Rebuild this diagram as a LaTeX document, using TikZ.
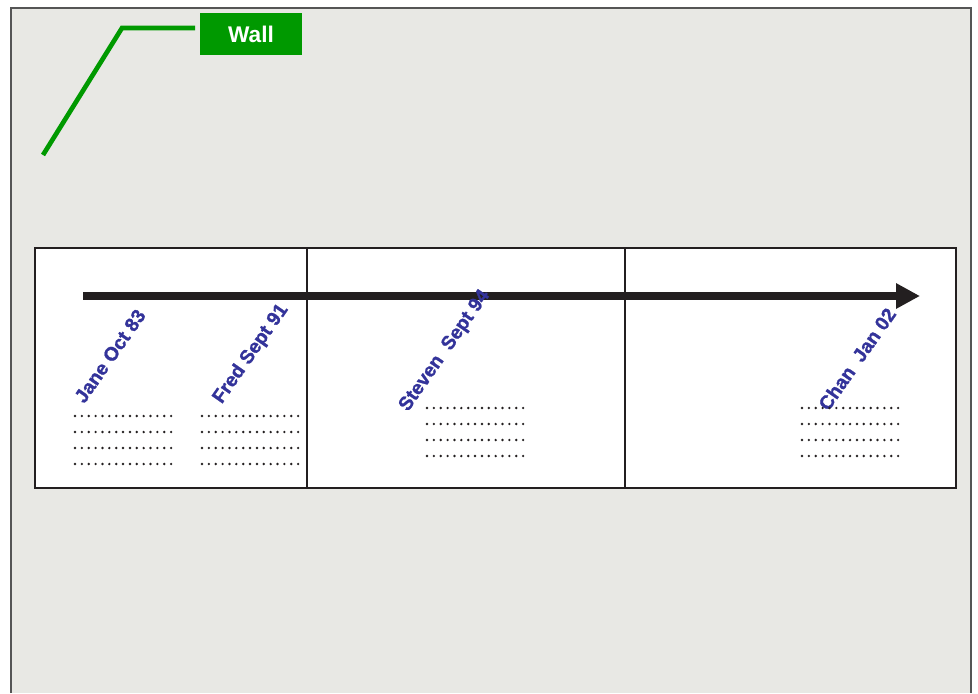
\documentclass[tikz,border=0pt]{standalone}
\usepackage{fontspec}
\setmainfont{Liberation Sans}[BoldFont={Liberation Sans Bold}]
\newfontfamily\namefont{Liberation Sans Bold}[FakeBold=1.2]
\usetikzlibrary{arrows.meta,positioning}
\definecolor{WallGreen}{HTML}{009900}
\definecolor{NameBlue}{HTML}{33339A}
\definecolor{RollInk}{HTML}{231F20}
\definecolor{PaperGrey}{HTML}{E8E8E4}
\definecolor{FrameLine}{HTML}{555555}
\tikzset{
  panel/.style={draw=RollInk, fill=white, line width=1.1pt},
  timeline/.style={-{Triangle[length=18pt,width=18pt]}, line width=6pt, draw=RollInk},
  leader/.style={draw=WallGreen, line width=3.5pt, shorten >=3.5pt},
  walltag/.style={fill=WallGreen, text=white, font=\bfseries\fontsize{17}{20}\selectfont,
                  minimum width=76.5pt, minimum height=31.5pt, inner sep=0pt},
  who/.style={text=NameBlue, rotate=55, font=\namefont\fontsize{14.5}{16}\selectfont, inner sep=0pt},
  dotrow/.style={draw=RollInk, line width=2pt, line cap=round, dash pattern=on 0pt off 5.15pt},
}
\newcommand{\notelines}[2]{% left x, first row y
  \foreach \k in {0,...,3}
    \draw[dotrow] (#1,#2+16*\k) -- ++(97,0);}

\begin{document}
\begin{tikzpicture}[x=0.75pt,y=-0.75pt]
    \useasboundingbox (0,0) rectangle (978,693);
    % the wall
    \fill[PaperGrey] (11,8) rectangle (971,693);
    \draw[FrameLine, line width=0.9pt] (11,693) -- (11,8) -- (971,8) -- (971,693);
    \node[walltag] (wall) at (251,34) {Wall};
    \coordinate (pin) at (43,155);
    \coordinate (bend) at (122,28);
    \draw[leader] (pin) -- (bend) -- (bend -| wall.west);
    % the roll of paper
    \draw[panel] (35,248) rectangle (307,488);
    \draw[panel] (307,248) rectangle (625,488);
    \draw[panel] (625,248) rectangle (956,488);
    \coordinate (start) at (83,296);
    \coordinate (now) at (920,296);
    \draw[timeline] (start) -- (now);
    % people on the line
    \node[who] (jane) at (110,356) {Jane Oct 83};
    \node[who] (fred) at (251,354) {Fred Sept 91};
    \node[who] (steven) at (445,351) {Steven\ \ Sept 94};
    \node[who] (chan) at (857,359) {Chan\ \ Jan 02};
    \notelines{75}{416}
    \notelines{202}{416}
    \notelines{427}{408}
    \notelines{802}{408}
  \end{tikzpicture}
\end{document}
